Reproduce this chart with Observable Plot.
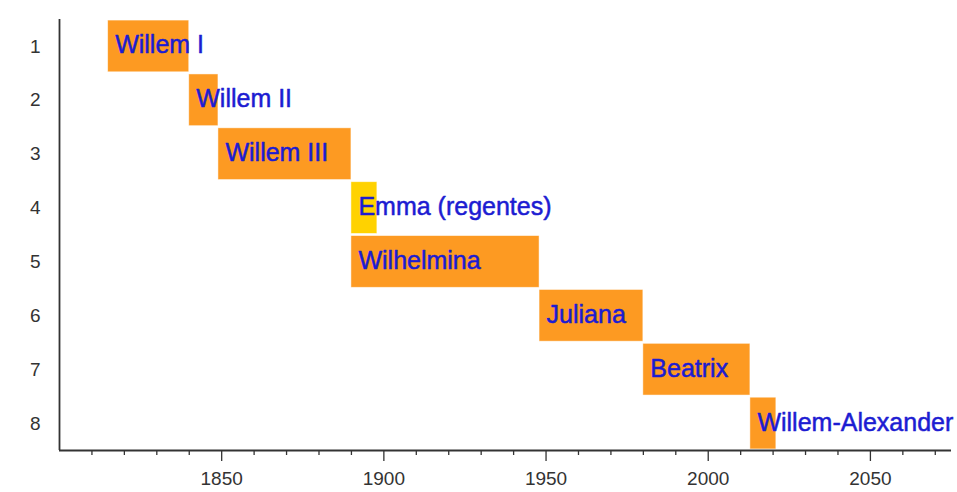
<!DOCTYPE html>
<html>
<head>
<meta charset="utf-8">
<script src="https://cdn.jsdelivr.net/npm/d3@7"></script>
<script src="https://cdn.jsdelivr.net/npm/@observablehq/plot@0.6"></script>
<style>
  html, body { margin: 0; padding: 0; background: #fff; }
</style>
</head>
<body>
<div id="chart"></div>
<script>
const names = ["Willem I", "Willem II", "Willem III", "Emma (regentes)", "Wilhelmina", "Juliana", "Beatrix", "Willem-Alexander"];
const rows = [1, 2, 3, 4, 5, 6, 7, 8];
const starts = [1815, 1840, 1849, 1890, 1890, 1948, 1980, 2013];
const ends = [1840, 1849, 1890, 1898, 1948, 1980, 2013, 2021];
const kinds = ["vorst", "vorst", "vorst", "regent", "vorst", "vorst", "vorst", "vorst"];
const majorTicks = [1850, 1900, 1950, 2000, 2050];
const minorTicks = d3.range(1810, 2075, 10).filter(d => d % 50 !== 0);
const rowTicks = [1, 2, 3, 4, 5, 6, 7, 8];

const data = names.map((n, i) => ({name: n, row: rows[i], start: starts[i], end: ends[i], kind: kinds[i]}));

const font = "'Liberation Sans', Arial, Helvetica, sans-serif";

const chart = Plot.plot({
  width: 957,
  height: 492,
  marginLeft: 59,
  marginRight: 6,
  marginTop: 19,
  marginBottom: 42,
  style: {fontFamily: font, background: "#fff", overflow: "visible"},
  x: {domain: [1800, 2075]},
  y: {domain: [0.5, 8.5], reverse: true},
  color: {domain: ["vorst", "regent"], range: ["#fd9a22", "#ffd200"]},
  marks: [
    Plot.rect(data, {x1: "start", x2: "end", y1: d => d.row - 0.48, y2: d => d.row + 0.48, fill: "kind", stroke: "#fff", strokeWidth: 0.8, strokeOpacity: 0.6}),
    Plot.text(data, {x: "start", y: "row", text: "name", textAnchor: "start", dx: 7, dy: -1, fill: "#1c1cd2", stroke: "#1c1cd2", strokeWidth: 0.5, fontSize: 25}),
    Plot.axisX({ticks: minorTicks, tickSize: 5, tickFormat: () => "", stroke: "#333", strokeWidth: 1.3, label: null}),
    Plot.axisX({ticks: majorTicks, tickSize: 11, tickPadding: 10, tickFormat: d => String(d), fill: "#333", stroke: "#333", strokeWidth: 1.3, fontSize: 19, label: null}),
    Plot.axisY({ticks: rowTicks, tickSize: 0, tickPadding: 19, tickFormat: d => String(d), fill: "#333", fontSize: 19, label: null}),
    Plot.ruleX([1800], {stroke: "#333", strokeWidth: 1.8}),
    Plot.ruleY([8.5], {stroke: "#333", strokeWidth: 1.8})
  ]
});
document.getElementById("chart").appendChild(chart);
</script>
</body>
</html>
